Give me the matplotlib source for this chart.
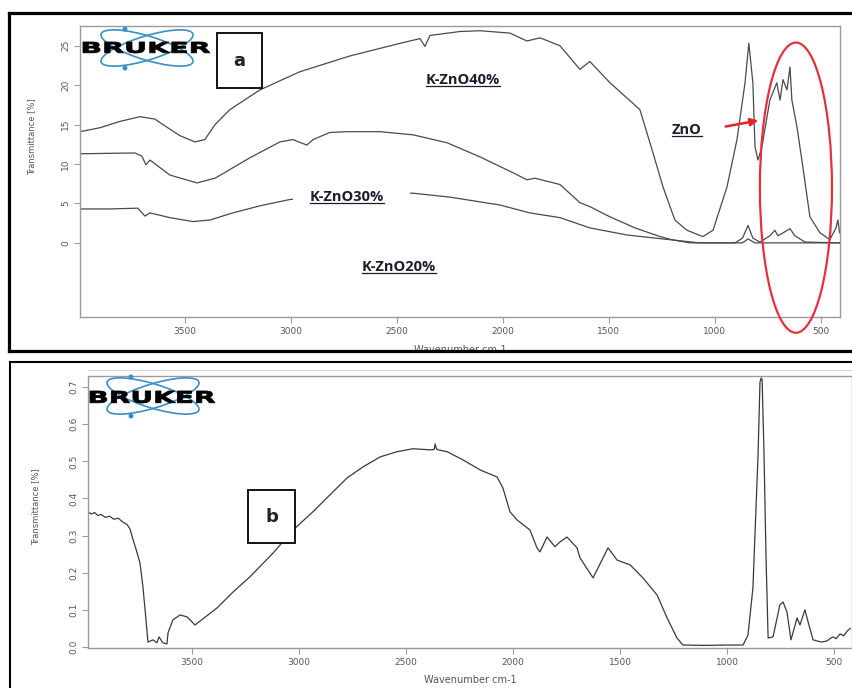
import numpy as np
import matplotlib.pyplot as plt
from matplotlib.patches import Ellipse, PathPatch, Rectangle, FancyArrowPatch
from matplotlib.lines import Line2D
from matplotlib.textpath import TextPath
from matplotlib.font_manager import FontProperties
from matplotlib.transforms import Affine2D, IdentityTransform

W, H = 853, 688

# --- panel a: K-ZnO 40 / 30 / 20 %
wn_40 = [3995, 3901, 3807, 3712, 3642, 3604, 3524, 3453, 3406, 3358, 3288, 3146, 2958,
         2722, 2486, 2391, 2368, 2344, 2203, 2108, 1967, 1887, 1825, 1731, 1637, 1590,
         1495, 1354, 1292, 1245, 1189, 1132, 1057, 1009, 943, 896, 858, 840, 821, 811,
         797, 778, 741, 708, 693, 679, 660, 646, 637, 613, 585, 552, 505, 458, 429, 420, 412]
t_40 = [14.1, 14.6, 15.4, 16.0, 15.7, 15.0, 13.6, 12.8, 13.1, 15.0, 16.9, 19.4, 21.7,
        23.7, 25.3, 25.9, 24.9, 26.3, 26.8, 26.9, 26.6, 25.6, 26.0, 25.0, 22.0, 23.0,
        20.3, 16.9, 11.4, 7.1, 2.9, 1.6, 0.8, 1.6, 7.1, 13.1, 20.3, 25.3, 20.3, 12.2,
        10.5, 12.2, 18.1, 20.3, 18.1, 20.7, 19.4, 22.3, 18.1, 14.7, 9.6, 3.3, 1.3, 0.4, 1.9, 2.9, 1.3]

wn_30 = [3995, 3736, 3703, 3684, 3665, 3571, 3443, 3358, 3193, 3052, 2991, 2925, 2896,
         2816, 2736, 2580, 2424, 2264, 2108, 1953, 1887, 1849, 1731, 1637, 1590, 1495,
         1377, 1259, 1203, 1118, 906, 870, 844, 821, 788, 741, 717, 703, 670, 646, 623, 575, 410]
t_30 = [11.3, 11.4, 11.0, 9.9, 10.5, 8.6, 7.6, 8.2, 10.8, 12.8, 13.1, 12.4, 13.1,
        14.0, 14.1, 14.1, 13.7, 12.7, 10.9, 8.9, 8.0, 8.2, 7.4, 5.1, 4.6, 3.3,
        1.9, 0.8, 0.4, 0.0, 0.0, 0.6, 2.2, 0.6, 0.1, 0.9, 1.6, 0.9, 1.4, 1.8, 0.9, 0.1, 0.0]

wn_20 = [3995, 3854, 3722, 3689, 3665, 3571, 3462, 3382, 3274, 3146, 3005, 2863, 2675,
         2424, 2250, 2014, 1873, 1731, 1590, 1415, 1212, 1071, 870, 844, 811, 410]
t_20 = [4.3, 4.3, 4.4, 3.4, 3.8, 3.2, 2.7, 2.9, 3.8, 4.7, 5.5, 5.7, 6.1,
        6.3, 5.8, 4.8, 3.8, 3.2, 1.9, 1.0, 0.4, 0.0, 0.0, 0.5, 0.0, 0.0]

# --- panel b
wn_b = [3986, 3970, 3955, 3940, 3925, 3905, 3885, 3865, 3845, 3825, 3804, 3790, 3776,
        3760, 3743, 3729, 3715, 3706, 3682, 3664, 3654, 3636, 3617, 3612, 3589, 3556,
        3523, 3486, 3383, 3308, 3229, 3121, 3028, 2935, 2855, 2776, 2701, 2621, 2542,
        2467, 2388, 2368, 2364, 2358, 2350, 2308, 2234, 2154, 2075, 2047, 2014, 1981,
        1921, 1888, 1874, 1841, 1804, 1780, 1748, 1701, 1687, 1626, 1556, 1514, 1453,
        1393, 1327, 1280, 1234, 1206, 1100, 1000, 925, 902, 879, 855, 846, 840, 836,
        827, 818, 808, 785, 753, 738, 720, 701, 673, 659, 636, 621, 598, 560, 533, 515,
        505, 490, 472, 455, 439, 425]
t_b = [0.364, 0.358, 0.362, 0.354, 0.357, 0.349, 0.352, 0.344, 0.347, 0.337, 0.330, 0.318, 0.290,
       0.260, 0.226, 0.160, 0.073, 0.013, 0.019, 0.011, 0.027, 0.011, 0.008, 0.038, 0.073, 0.086,
       0.081, 0.059, 0.105, 0.148, 0.189, 0.253, 0.315, 0.364, 0.410, 0.455, 0.485, 0.512, 0.526,
       0.534, 0.531, 0.532, 0.547, 0.534, 0.531, 0.526, 0.504, 0.477, 0.458, 0.428, 0.364, 0.342,
       0.315, 0.267, 0.256, 0.296, 0.270, 0.283, 0.296, 0.267, 0.240, 0.186, 0.267, 0.234, 0.221,
       0.186, 0.140, 0.078, 0.024, 0.005, 0.004, 0.005, 0.005, 0.032, 0.159, 0.517, 0.714, 0.725, 0.720,
       0.517, 0.248, 0.024, 0.027, 0.113, 0.121, 0.094, 0.019, 0.078, 0.059, 0.100, 0.067, 0.019, 0.013, 0.016, 0.024,
       0.027, 0.022, 0.035, 0.030, 0.042, 0.050]

xticks = [3500, 3000, 2500, 2000, 1500, 1000, 500]
yticks_a = [0, 5, 10, 15, 20, 25]
yticks_b = [0.0, 0.1, 0.2, 0.3, 0.4, 0.5, 0.6, 0.7]

GREY = '#9a9a9a'
LBL = '#555555'
PX = IdentityTransform()

fig = plt.figure(figsize=(W / 100, H / 100), dpi=100)


def axes_px(l, t, r, b):
    return fig.add_axes([l / W, 1 - b / H, (r - l) / W, (b - t) / H])


def style(ax, xlim, ylim, yticks, ylabels, ylab_pos, xlab_y):
    ax.set_xlim(*xlim)
    ax.set_ylim(*ylim)
    for s in ax.spines.values():
        s.set_color(GREY)
        s.set_linewidth(1)
    ax.set_xticks(xticks)
    ax.set_xticklabels([str(v) for v in xticks])
    ax.set_yticks(yticks)
    ax.set_yticklabels(ylabels, rotation=90, va='center')
    ax.tick_params(direction='out', length=4, width=0.8, color=GREY,
                   labelsize=6.5, labelcolor=LBL, pad=3)
    ax.set_ylabel('Transmittance [%]', fontsize=6, color=LBL)
    ax.yaxis.set_label_coords(*ylab_pos)
    ax.set_xlabel('Wavenumber cm-1', fontsize=7, color=LBL)
    ax.xaxis.set_label_coords(0.5, xlab_y)


ax_a = axes_px(80, 26, 840, 317)
ax_a.plot(wn_40, t_40, color='#4a4a4a', lw=0.9)
ax_a.plot(wn_30, t_30, color='#4a4a4a', lw=0.9)
ax_a.plot(wn_20, t_20, color='#4a4a4a', lw=0.9)
style(ax_a, (3995, 410), (-9.4, 27.5), yticks_a, [str(v) for v in yticks_a],
      (-0.058, 0.62), -0.095)
ax_a.add_patch(Ellipse((618, 7.0), 340, 36.8, fill=False, ec='#e8303a', lw=1.6,
                       clip_on=False, zorder=4))

ax_b = axes_px(88, 376, 852, 648)
ax_b.plot(wn_b, t_b, color='#3a3a3a', lw=0.9)
style(ax_b, (3986, 416), (-0.003, 0.73), yticks_b, ['%.1f' % v for v in yticks_b],
      (-0.062, 0.52), -0.098)


def logo(cx, cy, x0, x1, ty0, ty1):
    for ang in (17, -17):
        fig.add_artist(Ellipse((cx, H - cy), 96, 24, angle=ang, transform=PX,
                               fill=False, ec='#3a8fc4', lw=1.2, zorder=2))
    for dy in (-19, 20):
        fig.add_artist(Ellipse((cx - 22, H - (cy + dy)), 5, 5, transform=PX,
                               fc='#3a8fc4', ec='none', zorder=2))
    tp = TextPath((0, 0), 'BRUKER', size=10,
                  prop=FontProperties(family='DejaVu Sans', weight='bold'))
    bb = tp.get_extents()
    tr = Affine2D().translate(-bb.x0, -bb.y0).scale((x1 - x0) / bb.width,
                                                    (ty1 - ty0) / bb.height)
    tr = tr.translate(x0, H - ty1) + PX
    fig.add_artist(PathPatch(tp, transform=tr, fc='black', ec='black', lw=0.6, zorder=3))


logo(147, 48, 83, 210, 42, 53)
logo(153, 396, 90, 215, 391, 403)


def letter_box(l, t, r, b, s):
    fig.add_artist(Rectangle((l, H - b), r - l, b - t, transform=PX, fc='white',
                             ec='black', lw=1.3, zorder=3))
    fig.text((l + r) / 2, H - (t + b) / 2, s, transform=PX, ha='center', va='center',
             fontsize=13, fontweight='bold', color='#222222', zorder=4)


letter_box(217, 33, 262, 88, 'a')
letter_box(248, 490, 295, 543, 'b')

# white gap in lower curve behind the K-ZnO30% label
fig.add_artist(Rectangle((293, H - 206), 117, 18, transform=PX, fc='white', ec='none', zorder=2))

labels = [('K-ZnO40%', 463, 80), ('K-ZnO30%', 347, 197), ('K-ZnO20%', 399, 267), ('ZnO', 687, 130)]
texts = []
for s, x, y in labels:
    texts.append(fig.text(x, H - y, s, transform=PX, ha='center', va='center',
                          fontsize=10.5, fontweight='bold', family='Open Sans',
                          color='#1c1c2c', zorder=4))

fig.add_artist(FancyArrowPatch((723, H - 127), (761, H - 120), transform=PX,
                               arrowstyle='-|>', mutation_scale=11, color='#e8202a',
                               lw=1.8, zorder=4))

# outer frames
for (xa, ya), (xb, yb), lw in [((9, 13), (853, 13), 2.3), ((9, 13), (9, 351), 2.3),
                               ((9, 351), (853, 351), 2.3), ((10, 362), (853, 362), 1.5),
                               ((10, 362), (10, 688), 1.5), ((88, 370), (853, 370), 0.6)]:
    c = 'black' if lw > 1 else '#cccccc'
    fig.add_artist(Line2D([xa, xb], [H - ya, H - yb], transform=PX, color=c, lw=lw))

fig.canvas.draw()
rend = fig.canvas.get_renderer()
for t in texts:
    bb = t.get_window_extent(rend)
    fig.add_artist(Line2D([bb.x0, bb.x1], [bb.y0 + 1, bb.y0 + 1], transform=PX,
                          color='#1c1c2c', lw=0.9, zorder=4))

fig.savefig('out.png', dpi=100)
